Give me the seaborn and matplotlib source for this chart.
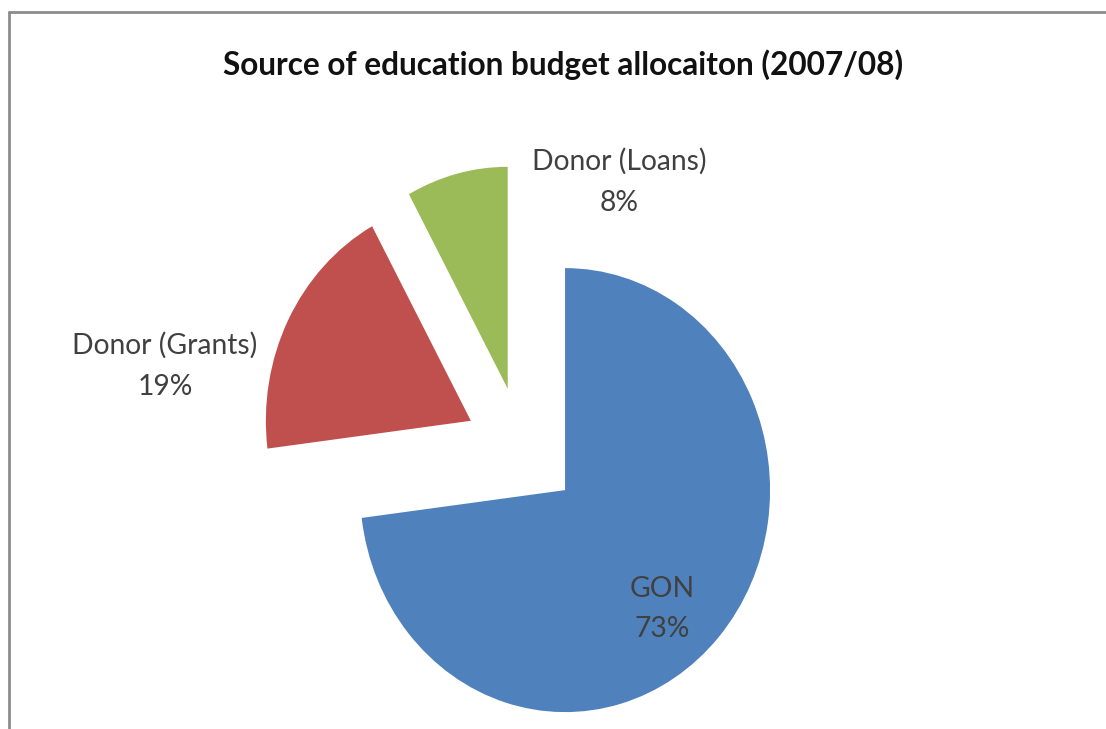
import matplotlib.pyplot as plt
import seaborn as sns
from matplotlib.lines import Line2D

TITLE = "Source of education budget allocaiton (2007/08)"
categories = ["GON", "Donor (Grants)", "Donor (Loans)"]
shares = [73, 19, 8]
colors = ["#4F81BD", "#C0504D", "#9BBB59"]

W, H = 1106, 729
# pie centre / radii in pixels (chart is slightly squeezed sideways)
CX, CY, RX, RY = 522, 449, 205, 222
# label anchor points in pixels
label_pos = {"GON": (662, 609), "Donor (Grants)": (165, 366), "Donor (Loans)": (619, 182)}


def main():
    sns.set_theme(style="white")
    plt.rcParams["font.family"] = ["Lato", "DejaVu Sans"]

    fig = plt.figure(figsize=(W / 100, H / 100), dpi=100)
    ax = fig.add_axes([0, 0, 1, 1])
    ax.pie(
        shares,
        colors=colors,
        startangle=90,
        counterclock=False,
        explode=[0.28] * len(shares),
        wedgeprops={"linewidth": 0},
    )
    ax.set_aspect("auto")
    ax.set_xlim(-CX / RX, (W - CX) / RX)
    ax.set_ylim(-(H - CY) / RY, CY / RY)
    ax.axis("off")

    for name, val in zip(categories, shares):
        px, py = label_pos[name]
        fig.text(
            px / W, 1 - py / H, f"{name}\n{val}%",
            ha="center", va="center", fontsize=20.3, color="#404040",
            linespacing=1.7,
        )

    fig.text(563 / W, 1 - 65 / H, TITLE, ha="center", va="center",
             fontsize=22.7, fontweight="bold", color="#111111")

    # chart frame, cropped at right and bottom
    frame = dict(color="#8c8c8c", linewidth=2, transform=fig.transFigure)
    fig.add_artist(Line2D([9 / W, 1], [1 - 12 / H, 1 - 12 / H], **frame))
    fig.add_artist(Line2D([9 / W, 9 / W], [0, 1 - 12 / H], **frame))

    fig.savefig("out.png", dpi=100)


if __name__ == "__main__":
    main()
